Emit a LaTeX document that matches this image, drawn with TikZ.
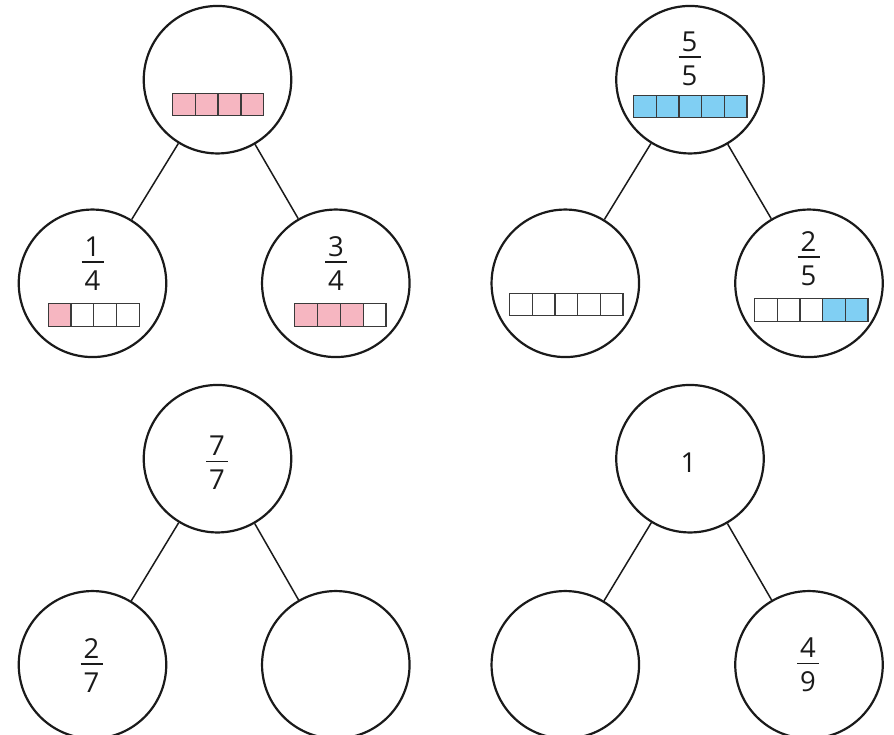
\documentclass[tikz,border=0pt]{standalone}
\usepackage{fontspec}
\setmainfont{Open Sans}
\definecolor{pinkc}{HTML}{F6B6C1}
\definecolor{bluec}{HTML}{80CFF3}
\definecolor{cellline}{HTML}{3A3A3A}
\definecolor{inkc}{HTML}{1A1A1A}
\tikzset{
  bubble/.style={circle, draw=inkc, line width=2.2pt, minimum size=147.5pt, inner sep=0pt},
  link/.style={draw=inkc, line width=1.5pt},
  cell/.style={draw=cellline, line width=1.3pt},
  dig/.style={font=\fontsize{27.5}{32}\selectfont, text=inkc, inner sep=0pt, anchor=base},
  fracrule/.style={draw=inkc, line width=1.6pt}
}
\newcommand\myfrac[5]{%
  \node[dig] (#1n) at (#2,#3-5.5) {#4};
  \draw[fracrule] (#2-11,#3) -- (#2+11,#3);
  \node[dig] (#1d) at (#2,#3+28.5) {#5};}
\newcommand\cellbar[5]{%
  \foreach \c [count=\i from 0] in {#5}
    \filldraw[cell, fill=\c] (#1+\i*#4,#2) rectangle ++(#4,#3-#2);}
\begin{document}
\begin{tikzpicture}[x=1pt,y=-1pt]
\useasboundingbox (0,0) rectangle (894,734);
% ---- top-left tree
\node[bubble] (tlp) at (217.5,79.7) {};
\node[bubble] (tll) at (92.5,283.3) {};
\node[bubble] (tlr) at (335.8,283.3) {};
\draw[link] (tlp) -- (tll);
\draw[link] (tlp) -- (tlr);
\cellbar{172.5}{93.5}{115.6}{22.8}{pinkc,pinkc,pinkc,pinkc}
\myfrac{tlf1}{92.5}{261.7}{1}{4}
\cellbar{48.2}{303.8}{326.2}{22.8}{pinkc,white,white,white}
\myfrac{tlf2}{336}{261.7}{3}{4}
\cellbar{294.8}{303.8}{326.2}{22.8}{pinkc,pinkc,pinkc,white}
% ---- top-right tree
\node[bubble] (trp) at (690,79.7) {};
\node[bubble] (trl) at (565.3,283.3) {};
\node[bubble] (trr) at (809,283.3) {};
\draw[link] (trp) -- (trl);
\draw[link] (trp) -- (trr);
\myfrac{trf0}{689.5}{56.7}{5}{5}
\cellbar{633.5}{95.5}{117.2}{22.7}{bluec,bluec,bluec,bluec,bluec}
\cellbar{509.5}{293.8}{315.5}{22.7}{white,white,white,white,white}
\myfrac{trf2}{808.5}{256.7}{2}{5}
\cellbar{754.5}{298.8}{321.2}{22.7}{white,white,white,bluec,bluec}
% ---- bottom-left tree
\node[bubble] (blp) at (217.5,458.7) {};
\node[bubble] (bll) at (92.5,664.8) {};
\node[bubble] (blr) at (335.8,664.8) {};
\draw[link] (blp) -- (bll);
\draw[link] (blp) -- (blr);
\myfrac{blf0}{217}{461.3}{7}{7}
\myfrac{blf1}{91.5}{664}{2}{7}
% ---- bottom-right tree
\node[bubble] (brp) at (690,458.7) {};
\node[bubble] (brl) at (565.3,664.8) {};
\node[bubble] (brr) at (809,664.8) {};
\draw[link] (brp) -- (brl);
\draw[link] (brp) -- (brr);
\node[dig] (brone) at (688.5,472.5) {1};
\myfrac{brf2}{808}{663.3}{4}{9}
\end{tikzpicture}
\end{document}
